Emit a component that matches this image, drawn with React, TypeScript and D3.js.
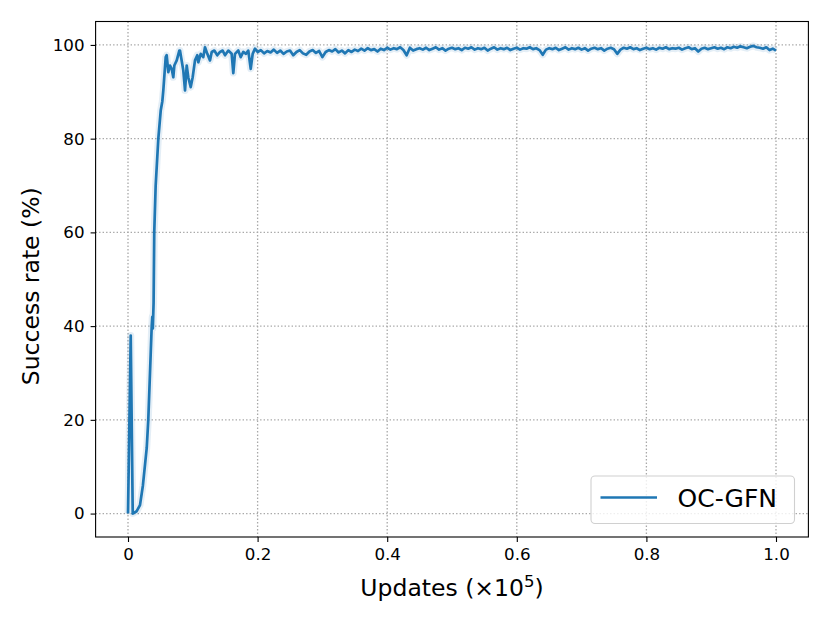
import React, { useEffect, useRef, useMemo } from 'react';
import * as d3 from 'd3';

// early training phase (x in units of 1e5 updates)
const earlyUpdates = [
  0, 0.0042, 0.0073, 0.0134, 0.0185, 0.023, 0.0289, 0.0313, 0.035, 0.0366, 0.0375, 0.0383,
  0.0395, 0.0405, 0.0427, 0.0468, 0.0505, 0.053, 0.0545, 0.0582, 0.0597, 0.0622, 0.0648,
  0.0674, 0.0699, 0.0715, 0.0752, 0.0792, 0.0802, 0.0853, 0.088, 0.0906, 0.093, 0.0968,
  0.0998, 0.1034, 0.1069, 0.1085, 0.1122, 0.1162, 0.1188, 0.1224, 0.1265, 0.1292, 0.1332,
  0.1378, 0.142, 0.1461, 0.1497, 0.1548, 0.16, 0.1625, 0.1651, 0.1702, 0.1739, 0.1779,
  0.1821, 0.1856, 0.1894, 0.1924, 0.196,
];
const earlySuccess = [
  0, 38, 0, 0.5, 1.8, 6, 14, 20, 34, 40, 42, 39.5,
  45, 60, 70, 80, 86, 88, 90.3, 97.4, 97.8, 94.2, 95.6,
  94.9, 93.1, 95.6, 96.7, 98.8, 98.8, 94.6, 90.3, 95.6, 93.1, 91,
  93.1, 96.7, 97.8, 96.3, 98.1, 97.4, 99.5, 98.1, 96.7, 98.5, 98.8,
  97.8, 98.5, 98.8, 97.8, 98.8, 98.1, 94.0, 98.1, 98.8, 97.4, 98.5,
  98.1, 98.8, 94.9, 98.1, 99.2,
];

// later phase, logged every 0.005 (x1e5) from 0.2 to 1.0
const tailStart = 0.2;
const tailStep = 0.005;
const tailSuccess = [
  98.5, 98.9, 98.2, 98.7, 98.4, 99.0, 98.3, 98.8, 98.1, 98.6,
  98.8, 97.8, 98.5, 98.9, 98.2, 97.9, 98.6, 98.9, 98.3, 98.7,
  97.4, 98.5, 98.9, 98.6, 99.1, 98.4, 98.8, 98.2, 98.9, 98.5,
  99.0, 98.7, 99.2, 98.8, 99.3, 98.9, 99.1, 98.6, 99.2, 98.9,
  99.4, 99.0, 99.3, 99.1, 99.5, 98.9, 97.8, 99.4, 98.8, 99.1,
  99.3, 99.0, 99.4, 98.9, 99.2, 99.5, 99.0, 99.3, 98.8, 99.2,
  99.4, 99.1, 99.3, 98.9, 99.4, 99.2, 99.5, 99.0, 99.3, 99.1,
  99.4, 98.8, 99.2, 99.5, 99.0, 99.3, 99.1, 99.4, 98.9, 99.2,
  99.4, 99.0, 99.3, 99.2, 99.5, 99.1, 99.3, 98.9, 97.9, 99.0,
  99.3, 99.1, 99.4, 98.9, 99.2, 99.5, 99.0, 99.3, 99.1, 99.4,
  99.0, 99.3, 98.8, 99.2, 99.4, 99.1, 99.3, 98.8, 99.2, 99.4,
  99.1, 98.1, 99.0, 99.4, 99.2, 99.5, 99.1, 99.3, 98.9, 99.2,
  99.4, 99.1, 99.3, 99.0, 99.4, 99.2, 99.5, 99.1, 99.3, 99.2,
  99.4, 99.0, 99.3, 99.5, 99.1, 99.3, 98.6, 99.2, 99.4, 99.1,
  99.3, 99.5, 99.2, 99.4, 99.1, 99.5, 99.3, 99.6, 99.4, 99.7,
  99.5, 99.3, 99.6, 99.8, 99.5, 99.4, 99.2, 99.5, 98.9, 99.2,
  98.8,
];

const xTicks = [0, 0.2, 0.4, 0.6, 0.8, 1.0];
const xTickLabels = ['0', '0.2', '0.4', '0.6', '0.8', '1.0'];
const yTicks = [0, 20, 40, 60, 80, 100];
const seriesName = 'OC-GFN';

const W = 830;
const H = 623;
const margin = { top: 21.5, right: 21.6, bottom: 86, left: 95.6 };
const color = '#1f77b4';
const font = 'DejaVu Sans, sans-serif';

const App = () => {
  const svgRef = useRef(null);
  const width = W - margin.left - margin.right;
  const height = H - margin.top - margin.bottom;

  const points = useMemo(() => {
    const pts = earlyUpdates.map((u, i) => [u, earlySuccess[i]]);
    tailSuccess.forEach((v, i) => pts.push([tailStart + i * tailStep, v]));
    return pts;
  }, []);

  const { x, y } = useMemo(() => {
    const xScale = d3.scaleLinear().domain([-0.05, 1.05]).range([0, width]);
    const yScale = d3.scaleLinear().domain([-5, 105]).range([height, 0]);
    return { x: xScale, y: yScale };
  }, [width, height]);

  useEffect(() => {
    const svg = d3.select(svgRef.current);
    svg.selectAll('*').remove();
    const g = svg.append('g').attr('transform', `translate(${margin.left},${margin.top})`);

    // grid
    const gridStyle = (sel) => sel
      .attr('stroke', '#a8a8a8').attr('stroke-width', 1.3).attr('stroke-dasharray', '1.4,2.1');
    g.append('g')
      .selectAll('line')
      .data(xTicks)
      .join('line')
      .attr('x1', (d) => x(d)).attr('x2', (d) => x(d))
      .attr('y1', 0).attr('y2', height)
      .call(gridStyle);
    g.append('g')
      .selectAll('line')
      .data(yTicks)
      .join('line')
      .attr('y1', (d) => y(d)).attr('y2', (d) => y(d))
      .attr('x1', 0).attr('x2', width)
      .call(gridStyle);

    const line = d3.line().x((d) => x(d[0])).y((d) => y(d[1]));

    // faint spread band
    g.append('path')
      .datum(points)
      .attr('d', line)
      .attr('fill', 'none')
      .attr('stroke', color)
      .attr('stroke-opacity', 0.12)
      .attr('stroke-width', 7)
      .attr('stroke-linejoin', 'round');

    g.append('path')
      .datum(points)
      .attr('d', line)
      .attr('fill', 'none')
      .attr('stroke', color)
      .attr('stroke-width', 2.7)
      .attr('stroke-linejoin', 'round');

    // axes
    const xAxis = g.append('g')
      .attr('transform', `translate(0,${height})`)
      .call(d3.axisBottom(x).tickValues(xTicks).tickFormat((d, i) => xTickLabels[i]).tickSizeOuter(0).tickSize(5).tickPadding(6));
    const yAxis = g.append('g')
      .call(d3.axisLeft(y).tickValues(yTicks).tickSizeOuter(0).tickSize(5).tickPadding(6));
    [xAxis, yAxis].forEach((a) => {
      a.select('.domain').remove();
      a.selectAll('line').attr('stroke', '#000').attr('stroke-width', 1.1);
      a.selectAll('text').attr('font-family', font).attr('font-size', 16.7).attr('fill', '#000');
    });

    // frame
    g.append('rect')
      .attr('width', width).attr('height', height)
      .attr('fill', 'none').attr('stroke', '#000').attr('stroke-width', 1.1);

    // axis labels
    const xl = svg.append('text')
      .attr('x', margin.left + width / 2).attr('y', 596)
      .attr('text-anchor', 'middle')
      .attr('font-family', font).attr('font-size', 23.5);
    xl.append('tspan').text('Updates (×10');
    xl.append('tspan').text('5').attr('font-size', 16.5).attr('dy', -9);
    xl.append('tspan').text(')').attr('dy', 9);

    svg.append('text')
      .attr('transform', `translate(39,${margin.top + height / 2 + 7}) rotate(-90)`)
      .attr('text-anchor', 'middle')
      .attr('font-family', font).attr('font-size', 23.5)
      .text('Success rate (%)');

    // legend
    const lg = svg.append('g');
    lg.append('rect')
      .attr('x', 591).attr('y', 476).attr('width', 203.5).attr('height', 47.5)
      .attr('rx', 4).attr('fill', '#fff').attr('fill-opacity', 0.8)
      .attr('stroke', '#d0d0d0').attr('stroke-width', 1.1);
    lg.append('line')
      .attr('x1', 600.5).attr('x2', 657).attr('y1', 497.5).attr('y2', 497.5)
      .attr('stroke', color).attr('stroke-width', 2.7);
    lg.append('text')
      .attr('x', 677.5).attr('y', 506.5)
      .attr('font-family', font).attr('font-size', 25)
      .text(seriesName);
  }, [points, x, y, width, height]);

  return (
    <div style={{ position: 'absolute', left: 0, top: 0, background: '#fff' }}>
      <svg width={W} height={H} ref={svgRef}></svg>
    </div>
  );
};

export default App;
